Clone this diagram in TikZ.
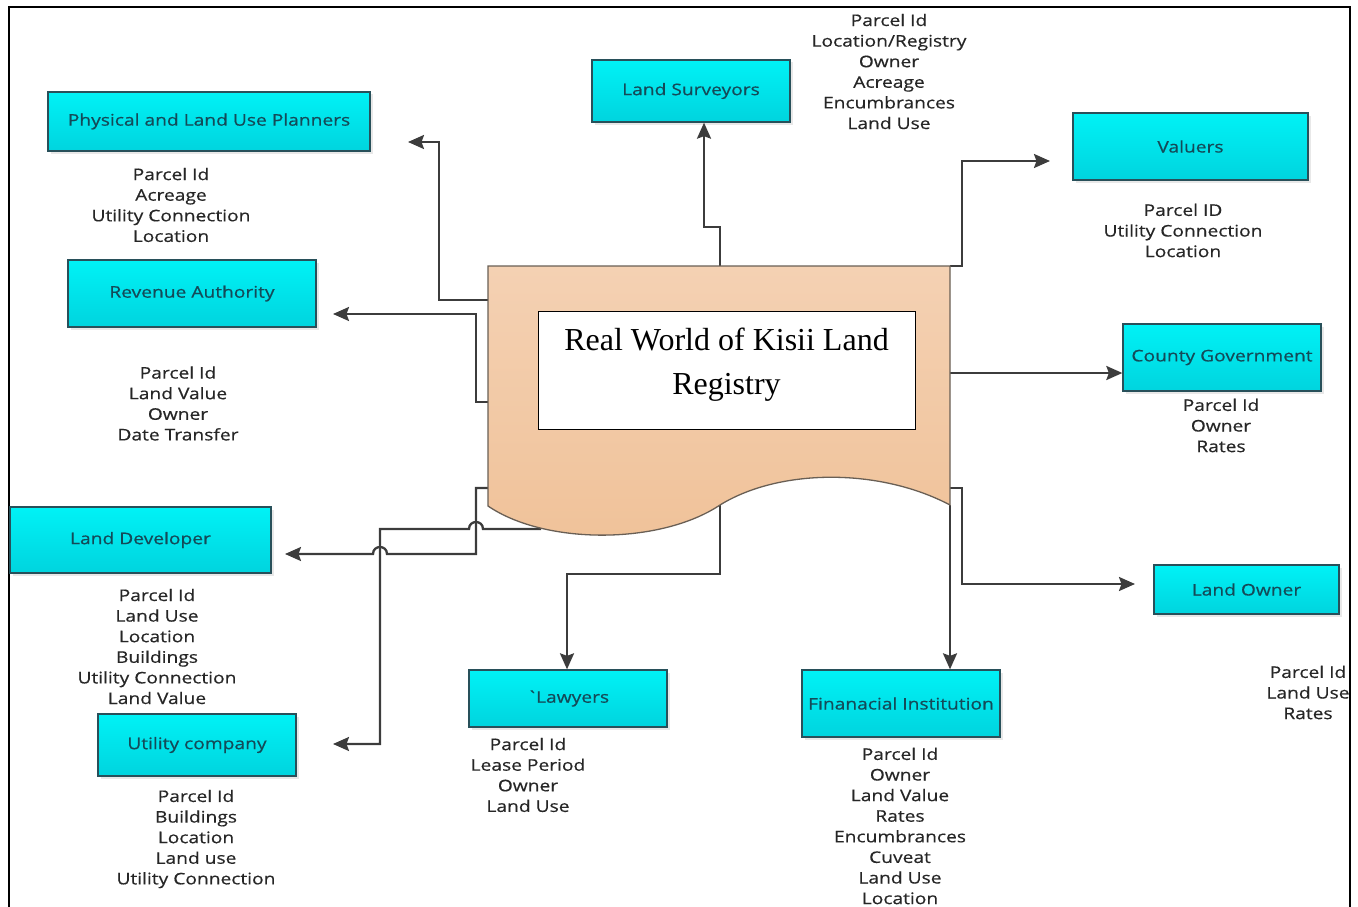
\documentclass[tikz,border=0pt]{standalone}
\usepackage{fontspec}
\setmainfont{Liberation Serif}
\newfontfamily\boxfont[FakeStretch=1.2,FakeBold=0.5]{Open Sans}
\usetikzlibrary{arrows.meta,shadows}
\definecolor{connc}{RGB}{60,60,60}
\definecolor{boxbd}{RGB}{40,80,90}
\definecolor{cyantop}{RGB}{0,242,246}
\definecolor{cyanbot}{RGB}{0,212,222}
\definecolor{boxtxt}{RGB}{20,74,88}
\definecolor{listtxt}{RGB}{38,38,38}
\definecolor{peachtop}{RGB}{244,209,179}
\definecolor{peachbot}{RGB}{240,194,153}
\definecolor{docbd}{RGB}{105,95,85}
\begin{document}
\begin{tikzpicture}[x=1pt,y=-1pt,
  ent/.style={draw=boxbd, line width=1.3pt, top color=cyantop, bottom color=cyanbot,
    text=boxtxt, font=\boxfont\fontsize{16}{19}\selectfont, inner sep=0pt,
    drop shadow={shadow xshift=2.5pt, shadow yshift=-2.5pt, opacity=0.18}},
  attr/.style={align=center, text=listtxt, font=\boxfont\fontsize{16}{20.6}\selectfont, inner sep=0pt},
  conn/.style={draw=connc, line width=2.3pt},
  arr/.style={conn, -{Stealth[length=16pt,width=14pt,inset=2.5pt]}}]
\useasboundingbox (0,0) rectangle (1358,907);
% frame
\draw[line width=2.6pt] (9,920) -- (9,7) -- (1350,7) -- (1350,920);

% entity boxes
\node[ent, minimum width=322pt, minimum height=59pt] (phys) at (209,121.5) {Physical and Land Use Planners};
\node[ent, minimum width=198pt, minimum height=62pt] (surv) at (691,91) {Land Surveyors};
\node[ent, minimum width=235pt, minimum height=67pt] (val) at (1190.5,146.5) {Valuers};
\node[ent, minimum width=248pt, minimum height=67pt] (rev) at (192,293.5) {Revenue Authority};
\node[ent, minimum width=198pt, minimum height=67pt] (cg) at (1222,357.5) {County Government};
\node[ent, minimum width=261pt, minimum height=66pt] (dev) at (140.5,540) {Land Developer};
\node[ent, minimum width=198pt, minimum height=62pt] (util) at (197,745) {Utility company};
\node[ent, minimum width=198pt, minimum height=57pt] (law) at (568,698.5) {\textasciigrave Lawyers};
\node[ent, minimum width=198pt, minimum height=67pt] (fin) at (901,703.5) {Finanacial Institution};
\node[ent, minimum width=185pt, minimum height=49pt] (own) at (1246.5,589.5) {Land Owner};

% attribute lists
\node[attr] (lsurv) at (889,71.5) {Parcel Id\\Location/Registry\\Owner\\Acreage\\Encumbrances\\Land Use};
\node[attr] (lphys) at (171,205) {Parcel Id\\Acreage\\Utility Connection\\Location};
\node[attr] (lval) at (1183,230.5) {Parcel ID\\Utility Connection\\Location};
\node[attr] (lrev) at (178,403.5) {Parcel Id\\Land Value\\Owner\\Date Transfer};
\node[attr] (lcg) at (1221,425.5) {Parcel Id\\Owner\\Rates};
\node[attr] (ldev) at (157,646.5) {Parcel Id\\Land Use\\Location\\Buildings\\Utility Connection\\Land Value};
\node[attr] (lutil) at (196,839) {Parcel Id\\Buildings\\Location\\Land use\\Utility Connection};
\node[attr] (llaw) at (528,775) {Parcel Id\\Lease Period\\Owner\\Land Use};
\node[attr] (lfin) at (900,826) {Parcel Id\\Owner\\Land Value\\Rates\\Encumbrances\\Cuveat\\Land Use\\Location};
\node[attr] (lown) at (1308,692.5) {Parcel Id\\Land Use\\Rates};

% connector points
\coordinate (p0) at (488,300); \coordinate (p1) at (439,300); \coordinate (p2) at (439,142); \coordinate (pT) at (408,142);
\coordinate (s0) at (720,266); \coordinate (s1) at (720,227); \coordinate (s2) at (704,227);
\coordinate (v0) at (950,266); \coordinate (v1) at (962,266); \coordinate (v2) at (962,161); \coordinate (vT) at (1050,161);
\coordinate (r0) at (488,402); \coordinate (r1) at (476,402); \coordinate (r2) at (476,314); \coordinate (rT) at (333,314);
\coordinate (c0) at (950,373);
\coordinate (o0) at (950,488); \coordinate (o1) at (962,488); \coordinate (o2) at (962,584); \coordinate (oT) at (1135,584);
\coordinate (f0) at (950,505);
\coordinate (l0) at (720,505); \coordinate (l1) at (720,574); \coordinate (l2) at (567,574);
\coordinate (d0) at (488,488); \coordinate (d1) at (476,488); \coordinate (d2) at (476,554); \coordinate (dT) at (285,554);
\coordinate (u0) at (541,529); \coordinate (u1) at (380,529); \coordinate (uT) at (333,744);

% connectors
\draw[arr] (p0) -- (p1) -- (p2) -- (pT);
\draw[arr] (s0) -- (s1) -- (s2) -- (s2 |- surv.south);
\draw[arr] (v0) -- (v1) -- (v2) -- (vT);
\draw[arr] (r0) -- (r1) -- (r2) -- (rT);
\draw[arr] (c0) -- (c0 -| cg.west);
\draw[arr] (o0) -- (o1) -- (o2) -- (oT);
\draw[arr] (f0) -- (f0 |- fin.north);
\draw[arr] (l0) -- (l1) -- (l2) -- (l2 |- law.north);
\draw[arr] (d0) -- (d1) -- (d2) -- (387,554) .. controls (387,544.7) and (373,544.7) .. (373,554) -- (dT);
\draw[arr] (u0) -- (483,529) .. controls (483,519.7) and (469,519.7) .. (469,529) -- (u1) -- (u1 |- uT) -- (uT);

% document shape
\path[draw=docbd, line width=1.3pt, top color=peachtop, bottom color=peachbot]
  (488,266) -- (950,266) -- (950,505)
  .. controls (880,468) and (780,468) .. (720,505)
  .. controls (660,545) and (545,545) .. (488,506) -- cycle;
\node[draw=black, line width=1pt, fill=white, minimum width=377pt, minimum height=118pt, inner sep=0pt] (core) at (726.5,370) {};
\node[font=\fontsize{32}{44}\selectfont, align=center, inner sep=0pt] (coretxt) at (726.5,364.5) {Real World of Kisii Land\\Registry};
\end{tikzpicture}
\end{document}
